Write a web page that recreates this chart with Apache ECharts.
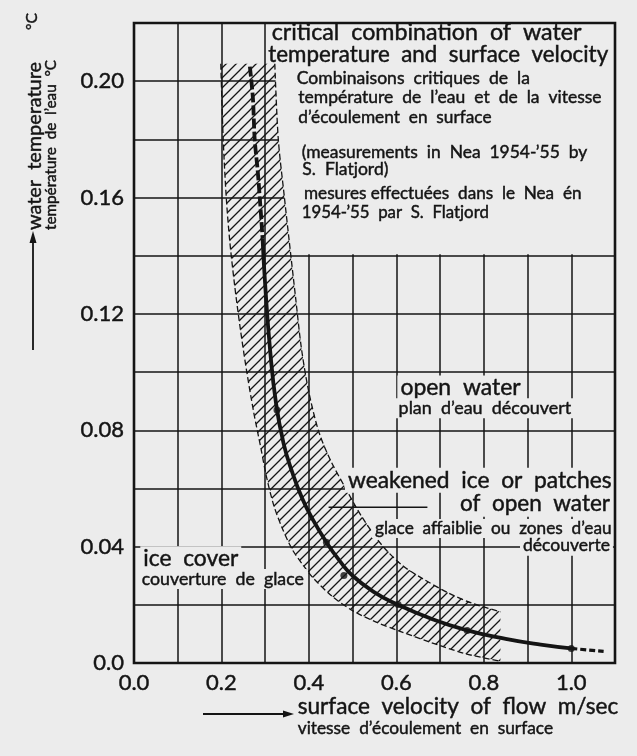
<!DOCTYPE html>
<html><head><meta charset="utf-8">
<script src="https://cdn.jsdelivr.net/npm/echarts@6/dist/echarts.min.js"></script>
<style>html,body{margin:0;padding:0;background:#ececec;}#c{width:637px;height:756px;}</style>
</head><body><div id="c"></div>
<script>
// ---------------- data ----------------
const xTickValues = [0, 0.2, 0.4, 0.6, 0.8, 1.0];
const xTickLabels = ['0.0', '0.2', '0.4', '0.6', '0.8', '1.0'];
const yTickValues = [0, 0.04, 0.08, 0.12, 0.16, 0.20];
const yTickLabels = ['0.0', '0.04', '0.08', '0.12', '0.16', '0.20'];

// central curve: dashed (extrapolated) upper part, solid part, dashed tail
const curveTop = [[0.265,0.205],[0.272,0.194],[0.276,0.180],[0.283,0.169],[0.290,0.155],[0.294,0.146]];
const curveMain = [[0.294,0.146],[0.300,0.130],[0.311,0.108],[0.325,0.089],[0.342,0.0755],[0.362,0.0655],
  [0.385,0.0565],[0.410,0.0490],[0.440,0.0415],[0.470,0.0352],[0.500,0.0300],[0.550,0.0243],
  [0.600,0.0203],[0.680,0.0152],[0.760,0.0113],[0.850,0.0083],[0.930,0.0063],[1.000,0.0050]];
const curveTail = [[1.000,0.0050],[1.074,0.0040]];

// measurements (dots)
const measured = [[0.327,0.0870],[0.440,0.0415],[0.480,0.0301],[0.604,0.0201],[0.762,0.0112],[1.000,0.0050]];

// hatched band boundaries (top -> bottom)
const bandLeft = [[0.1985,0.206],[0.204,0.180],[0.211,0.160],[0.219,0.145],[0.230,0.130],[0.243,0.115],
  [0.258,0.100],[0.274,0.086],[0.290,0.074],[0.303,0.064],[0.320,0.054],[0.340,0.046],[0.362,0.039],
  [0.385,0.034],[0.408,0.0295],[0.454,0.0228],[0.500,0.0180],[0.550,0.0143],[0.610,0.0108],
  [0.680,0.0070],[0.758,0.0032],[0.838,0.0006]];
const bandRight = [[0.322,0.206],[0.330,0.180],[0.344,0.160],[0.355,0.145],[0.370,0.125],[0.383,0.108],
  [0.400,0.093],[0.423,0.0793],[0.450,0.0695],[0.486,0.0595],[0.520,0.0505],[0.567,0.0405],
  [0.614,0.0335],[0.660,0.0290],[0.720,0.0240],[0.774,0.0205],[0.838,0.0176]];

// leader line from the "weakened ice" label into the band
const leaderLine = [[0.445,0.0535],[0.671,0.0535]];

// ---------------- rendering ----------------
const BG = '#ececec';
const INK = '#141414';
const FONT = 'Lato';
const mctx = document.createElement('canvas').getContext('2d');

function hatchCanvas() {
  const s = 10, c = document.createElement('canvas');
  c.width = s; c.height = s;
  const g = c.getContext('2d');
  g.strokeStyle = INK; g.lineWidth = 1.3;
  g.beginPath();
  g.moveTo(-1, s + 1); g.lineTo(s + 1, -1);
  g.moveTo(-1, 1); g.lineTo(1, -1);
  g.moveTo(s - 1, s + 1); g.lineTo(s + 1, s - 1);
  g.stroke();
  return c;
}
const HATCH = hatchCanvas();

function fitSize(text, width) {
  mctx.font = 'normal 100px ' + FONT;
  return 100 * width / mctx.measureText(text).width;
}
function txt(text, left, right, baseline, bg) {
  const fs = fitSize(text, right - left);
  const el = {
    type: 'text', x: left, y: baseline - 0.38 * fs, z: 60,
    style: { text: text, font: 'normal ' + fs.toFixed(2) + 'px ' + FONT, fill: INK, stroke: INK, lineWidth: 0.45,
      align: 'left', verticalAlign: 'middle' }
  };
  if (bg) { el.style.backgroundColor = BG; el.style.padding = [1, 3]; el.x = left - 3; }
  return el;
}
function vtxt(text, bottom, top, baselineX) {
  const fs = fitSize(text, bottom - top);
  return {
    type: 'text', x: baselineX - 0.38 * fs, y: bottom, rotation: Math.PI / 2, z: 60,
    style: { text: text, font: 'normal ' + fs.toFixed(2) + 'px ' + FONT, fill: INK, stroke: INK, lineWidth: 0.45,
      align: 'left', verticalAlign: 'middle' }
  };
}

const G = { left: 134, right: 22, top: 23, bottom: 93 };

function tickFmt(values, labels) {
  return function (v) {
    for (let i = 0; i < values.length; i++) if (Math.abs(v - values[i]) < 1e-6) return labels[i];
    return '';
  };
}

function xAt(boundary, y) {
  for (let i = 0; i < boundary.length - 1; i++) {
    const a = boundary[i], b = boundary[i + 1];
    if ((a[1] - y) * (b[1] - y) <= 0) return a[0] + (b[0] - a[0]) * (a[1] - y) / (a[1] - b[1]);
  }
  return boundary[0][0];
}

const chart = echarts.init(document.getElementById('c'), null, { renderer: 'canvas' });

const graphics = [
  txt('critical  combination  of  water', 271.7, 581.7, 41),
  txt('temperature  and  surface  velocity', 268.3, 608.3, 63.3),
  txt('Combinaisons  critiques  de  la', 296.7, 530, 85),
  txt('température  de  l\u2019eau  et  de  la  vitesse', 298.3, 601.7, 104),
  txt('d\u2019écoulement  en  surface', 298.3, 491.7, 124),
  txt('(measurements  in  Nea  1954-\u201955  by', 301.7, 587.3, 159.3),
  txt('S.  Flatjord)', 302.3, 388.5, 176),
  txt('mesures effectuées  dans  le  Nea  én', 304, 581.7, 200),
  txt('1954-\u201955  par  S.  Flatjord', 301.7, 489, 219.3),
  txt('open  water', 400.4, 520.7, 396.7, true),
  txt('plan  d\u2019eau  découvert', 398.6, 571.3, 415, true),
  txt('weakened  ice  or  patches', 348, 611.7, 489, true),
  txt('of  open  water', 460, 610, 512.7, true),
  txt('glace  affaiblie  ou  zones  d\u2019eau', 375, 611.7, 535, true),
  txt('découverte', 523, 610, 552.3, true),
  txt('ice  cover', 143.3, 238.3, 567.3, true),
  txt('couverture  de  glace', 141.7, 304, 585.7, true),
  txt('surface  velocity  of  flow  m/sec', 297.7, 618.3, 715),
  txt('vitesse  d\u2019écoulement  en  surface', 297.7, 553.3, 735),
  vtxt('water  temperature', 230, 62, 42.5),
  vtxt('°C', 30, 13, 38),
  vtxt('température  de  l\u2019eau  °C', 230, 60, 57),
  // axis arrows
  { type: 'line', z: 60, shape: { x1: 203, y1: 714, x2: 287, y2: 714 }, style: { stroke: INK, lineWidth: 1.8 } },
  { type: 'polygon', z: 60, shape: { points: [[283, 710.5], [294, 714], [283, 717.5]] }, style: { fill: INK } },
  { type: 'line', z: 60, shape: { x1: 33, y1: 350, x2: 33, y2: 240 }, style: { stroke: INK, lineWidth: 1.8 } },
  { type: 'polygon', z: 60, shape: { points: [[29.5, 243], [33, 231], [36.5, 243]] }, style: { fill: INK } },
  // frame
  { type: 'rect', z: 100, shape: { x: G.left, y: G.top, width: 637 - G.left - G.right, height: 756 - G.top - G.bottom },
    style: { fill: null, stroke: INK, lineWidth: 2.6 } }
];

const option = {
  animation: false,
  backgroundColor: BG,
  grid: { left: G.left, right: G.right, top: G.top, bottom: G.bottom, containLabel: false },
  xAxis: {
    type: 'value', min: 0, max: 1.1, interval: 0.1,
    axisLine: { show: false }, axisTick: { show: false },
    splitLine: { show: true, lineStyle: { color: INK, width: 1.5 } },
    axisLabel: { formatter: tickFmt(xTickValues, xTickLabels), fontFamily: FONT, fontSize: 22, color: INK,
      textBorderColor: INK, textBorderWidth: 0.45, margin: 9, showMaxLabel: true, showMinLabel: true }
  },
  yAxis: {
    type: 'value', min: 0, max: 0.22, interval: 0.02,
    axisLine: { show: false }, axisTick: { show: false },
    splitLine: { show: true, lineStyle: { color: INK, width: 1.5 } },
    axisLabel: { formatter: tickFmt(yTickValues, yTickLabels), fontFamily: FONT, fontSize: 22, color: INK,
      textBorderColor: INK, textBorderWidth: 0.45, margin: 10 }
  },
  graphic: graphics,
  series: [
    { // blank box behind the title text (gridlines hidden there)
      type: 'custom', z: 1, silent: true, data: [[0, 0]],
      renderItem: function (params, api) {
        const yb = 0.1405, xr = 1.1, yt = 0.2205, xl = 0.302;
        const upper = bandRight.filter(p => p[1] > yb).slice().reverse();
        const pts = [[xl, yt], [xr, yt], [xr, yb], [xAt(bandRight, yb), yb]].concat(upper).concat([[xl, bandRight[0][1]]]);
        return { type: 'polygon', shape: { points: pts.map(p => api.coord(p)) }, style: { fill: BG } };
      }
    },
    { // hatched band
      type: 'custom', z: 2, silent: true, data: [[0, 0]],
      renderItem: function (params, api) {
        const pts = bandLeft.concat(bandRight.slice().reverse());
        return { type: 'polygon', shape: { points: pts.map(p => api.coord(p)) },
          style: { fill: { image: HATCH, repeat: 'repeat' }, stroke: null } };
      }
    },
    { type: 'line', z: 3, data: bandLeft, showSymbol: false, smooth: 0.3, lineStyle: { color: INK, width: 1.3, type: [6, 3] } },
    { type: 'line', z: 3, data: bandRight, showSymbol: false, smooth: 0.3, lineStyle: { color: INK, width: 1.3, type: [6, 3] } },
    { type: 'line', z: 4, data: curveMain, showSymbol: false, smooth: 0.5, lineStyle: { color: INK, width: 3.8 } },
    { type: 'line', z: 4, data: curveTop, showSymbol: false, smooth: 0.3, lineStyle: { color: INK, width: 3.8, type: [10, 3] } },
    { type: 'line', z: 4, data: curveTail, showSymbol: false, lineStyle: { color: INK, width: 3.2, type: [6, 3] } },
    { type: 'scatter', z: 5, data: measured, symbolSize: 7, itemStyle: { color: INK } },
    { type: 'line', z: 3, data: leaderLine, showSymbol: false, lineStyle: { color: INK, width: 1.5 } }
  ]
};
chart.setOption(option);
</script>
</body></html>
